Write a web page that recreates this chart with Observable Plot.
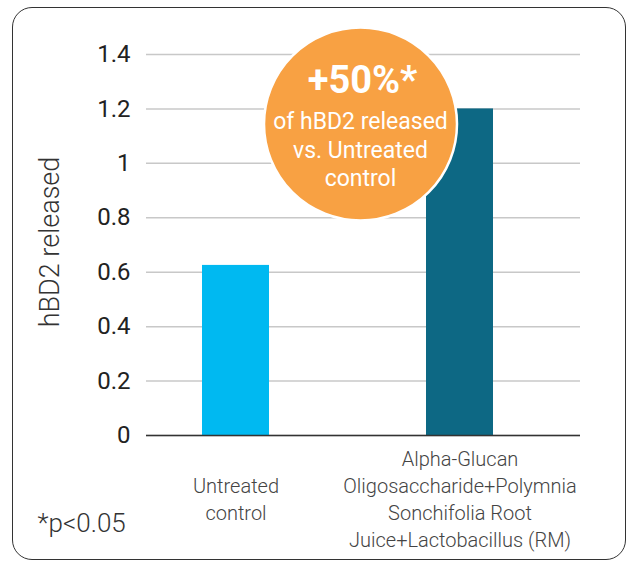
<!DOCTYPE html>
<html><head><meta charset="utf-8">
<script src="https://cdn.jsdelivr.net/npm/d3@7"></script>
<script src="https://cdn.jsdelivr.net/npm/@observablehq/plot@0.6"></script>
<style>
body{margin:0;background:#fff;font-family:Roboto,sans-serif;}
#wrap{position:relative;width:627px;height:561px;overflow:hidden;}
#border{position:absolute;left:11.75px;top:7.25px;width:614px;height:552.5px;border:1.5px solid #333;border-radius:20px;box-sizing:border-box;}
#chart{position:absolute;left:0;top:0;}
</style></head><body>
<div id="wrap"><div id="border"></div><div id="chart"></div></div>
<script>
const categories = ["Untreated control", "Alpha-Glucan Oligosaccharide+Polymnia Sonchifolia Root Juice+Lactobacillus (RM)"];
const categoryLabels = ["Untreated\ncontrol", "Alpha-Glucan\nOligosaccharide+Polymnia\nSonchifolia Root\nJuice+Lactobacillus (RM)"];
const values = [0.625, 1.2];
const barColors = ["#00b9f1", "#0d6884"];
const yTicks = [0, 0.2, 0.4, 0.6, 0.8, 1, 1.2, 1.4];
const yLabel = "hBD2 released";
const calloutHead = "+50%*";
const calloutBody = "of hBD2 released\nvs. Untreated\ncontrol";
const footnote = "*p<0.05";

const data = categories.map((c, i) => ({category: c, label: categoryLabels[i], value: values[i], color: barColors[i]}));

const chart = Plot.plot({
  width: 627, height: 561,
  marginLeft: 146, marginRight: 47, marginTop: 54, marginBottom: 126,
  style: {fontFamily: "Roboto, sans-serif", background: "transparent", overflow: "visible"},
  x: {domain: categories, range: [201, 493], paddingInner: 0.702, paddingOuter: 0, axis: null},
  y: {domain: [0, 1.4], axis: null},
  color: {type: "identity"},
  marks: [
    Plot.gridY(yTicks, {stroke: "#c8c8c8", strokeOpacity: 1, strokeWidth: 1.5}),
    Plot.axisY(yTicks, {tickSize: 0, tickPadding: 16, tickFormat: d => String(d), fontSize: 24, fill: "#222", label: null}),
    Plot.barY(data, {x: "category", y: "value", fill: "color"}),
    Plot.ruleY([0], {stroke: "#333", strokeWidth: 1.5}),
    Plot.text(data, {x: "category", text: "label", frameAnchor: "bottom", dy: 62, lineAnchor: "middle", lineHeight: 1.35, fontSize: 20, fontWeight: 300, fill: "#444"}),
    Plot.text([yLabel], {text: d => d, frameAnchor: "left", dx: -96, dy: -3, rotate: -90, textAnchor: "middle", lineAnchor: "middle", fontSize: 27, fontWeight: 300, fill: "#333"}),
    Plot.text([footnote], {text: d => d, frameAnchor: "bottom-left", dx: -109, dy: 96, textAnchor: "start", lineAnchor: "bottom", fontSize: 26, fontWeight: 300, fill: "#333"}),
    Plot.dot([calloutHead], {frameAnchor: "top-left", dx: 214, dy: 69.5, r: 96.5, fill: "#f8a143", stroke: "white", strokeWidth: 2.5}),
    Plot.text([calloutHead], {text: d => d, frameAnchor: "top-left", dx: 216, dy: 26, textAnchor: "middle", lineAnchor: "middle", fontSize: 38, fontWeight: 700, fill: "white"}),
    Plot.text([calloutBody], {text: d => d, frameAnchor: "top-left", dx: 214, dy: 94, textAnchor: "middle", lineAnchor: "middle", lineHeight: 1.24, fontSize: 23, fontWeight: 400, fill: "white"})
  ]
});
document.getElementById("chart").appendChild(chart);
</script>
</body></html>
